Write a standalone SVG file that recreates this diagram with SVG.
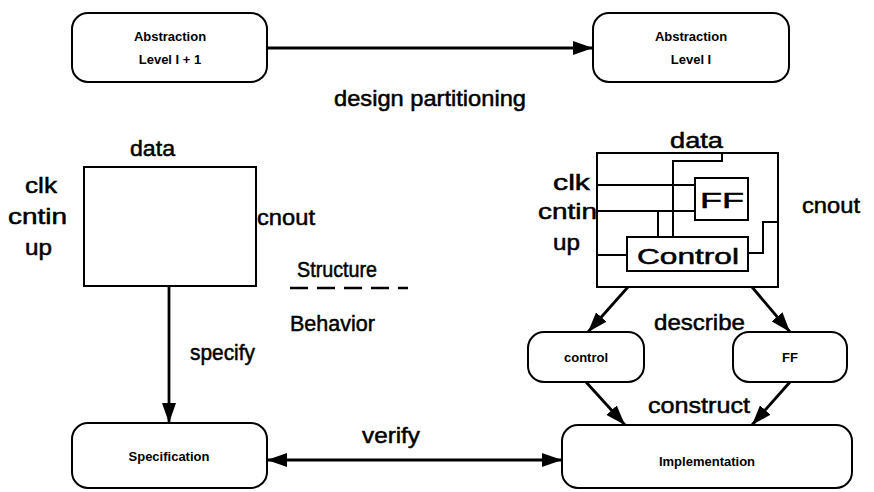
<svg xmlns="http://www.w3.org/2000/svg" width="874" height="492" viewBox="0 0 874 492">
<defs>
<marker id="ah" viewBox="0 0 20 14" refX="20" refY="7" markerWidth="20" markerHeight="14" markerUnits="userSpaceOnUse" orient="auto-start-reverse"><path d="M0,0 L20,7 L0,14 z" fill="#000"/></marker>
</defs>
<style>
.node{fill:#fff;stroke:#000;stroke-width:2}
.box{fill:none;stroke:#000;stroke-width:2}
.wire{fill:none;stroke:#000;stroke-width:2}
.conn{fill:none;stroke:#000;stroke-width:2.8}
.sm{font-family:"Liberation Sans",Arial,sans-serif;font-size:13px;font-weight:bold;text-anchor:middle;fill:#000}
.lb{font-family:"Liberation Sans",Arial,sans-serif;font-size:22px;fill:#000;stroke:#000;stroke-width:0.5}
.mid{text-anchor:middle}
</style>
<rect width="874" height="492" fill="#fff"/>
<g id="connectors">
<path class="conn" d="M267,48 H593" marker-end="url(#ah)"/>
<path class="conn" d="M169,286 V423" marker-end="url(#ah)"/>
<path class="conn" d="M267,460 H562" marker-start="url(#ah)" marker-end="url(#ah)"/>
<path class="conn" d="M628,287 L588,332" marker-end="url(#ah)"/>
<path class="conn" d="M752,287 L790,332" marker-end="url(#ah)"/>
<path class="conn" d="M586,382 L625,425" marker-end="url(#ah)"/>
<path class="conn" d="M790,382 L752,425" marker-end="url(#ah)"/>
<path d="M290,288 H408" stroke="#000" stroke-width="2.5" stroke-dasharray="18 9" fill="none"/>
</g>
<g id="labels">
<text class="lb mid" x="430" y="106" textLength="192" lengthAdjust="spacingAndGlyphs">design partitioning</text>
<text class="lb" x="297" y="277" textLength="80" lengthAdjust="spacingAndGlyphs">Structure</text>
<text class="lb" x="290" y="331" textLength="85" lengthAdjust="spacingAndGlyphs">Behavior</text>
<text class="lb" x="190" y="360" textLength="65" lengthAdjust="spacingAndGlyphs">specify</text>
<text class="lb" x="362" y="443" textLength="58" lengthAdjust="spacingAndGlyphs">verify</text>
<text class="lb" x="654" y="330" textLength="91" lengthAdjust="spacingAndGlyphs">describe</text>
<text class="lb" x="648" y="413" textLength="102" lengthAdjust="spacingAndGlyphs">construct</text>
</g>
<g id="abs_level_i_plus_1">
<rect class="node" x="72" y="13" width="195" height="69" rx="16"/>
<text class="sm" x="170" y="41">Abstraction</text>
<text class="sm" x="170" y="64">Level I + 1</text>
</g>
<g id="abs_level_i">
<rect class="node" x="593" y="13" width="196" height="69" rx="16"/>
<text class="sm" x="691" y="41">Abstraction</text>
<text class="sm" x="691" y="64">Level I</text>
</g>
<g id="behavior_block">
<rect class="box" x="84" y="167" width="172" height="119"/>
<text class="lb" x="130" y="156" textLength="45" lengthAdjust="spacingAndGlyphs">data</text>
<text class="lb" x="25" y="193" textLength="32" lengthAdjust="spacingAndGlyphs">clk</text>
<text class="lb" x="8" y="224" textLength="59" lengthAdjust="spacingAndGlyphs">cntin</text>
<text class="lb" x="25" y="255" textLength="27" lengthAdjust="spacingAndGlyphs">up</text>
<text class="lb" x="257" y="225" textLength="58" lengthAdjust="spacingAndGlyphs">cnout</text>
</g>
<g id="structure_block">
<rect class="box" x="597" y="153" width="181" height="134"/>
<rect class="box" x="695" y="178" width="53" height="42"/>
<rect class="box" x="627" y="237" width="121" height="34"/>
<path class="wire" d="M597,185 H695 M597,211 H695 M658,211 V237 M722,153 V161 H673 V237 M597,255 H627 M748,253 H763 V222 H778"/>
<text class="lb mid" x="722" y="208" font-size="25" textLength="44" lengthAdjust="spacingAndGlyphs">FF</text>
<text class="lb mid" x="688" y="264" font-size="24" textLength="102" lengthAdjust="spacingAndGlyphs">Control</text>
<text class="lb" x="670" y="148" textLength="53" lengthAdjust="spacingAndGlyphs">data</text>
<text class="lb" x="553" y="190" textLength="37" lengthAdjust="spacingAndGlyphs">clk</text>
<text class="lb" x="538" y="219" textLength="59" lengthAdjust="spacingAndGlyphs">cntin</text>
<text class="lb" x="553" y="250" textLength="27" lengthAdjust="spacingAndGlyphs">up</text>
<text class="lb" x="802" y="213" textLength="58" lengthAdjust="spacingAndGlyphs">cnout</text>
</g>
<g id="control">
<rect class="node" x="528" y="332" width="116" height="50" rx="16"/>
<text class="sm" x="586" y="362">control</text>
</g>
<g id="ff">
<rect class="node" x="733" y="332" width="114" height="50" rx="16"/>
<text class="sm" x="790" y="362">FF</text>
</g>
<g id="specification">
<rect class="node" x="72" y="423" width="195" height="65" rx="16"/>
<text class="sm" x="169" y="461">Specification</text>
</g>
<g id="implementation">
<rect class="node" x="562" y="425" width="290" height="63" rx="16"/>
<text class="sm" x="707" y="466">Implementation</text>
</g>
</svg>
